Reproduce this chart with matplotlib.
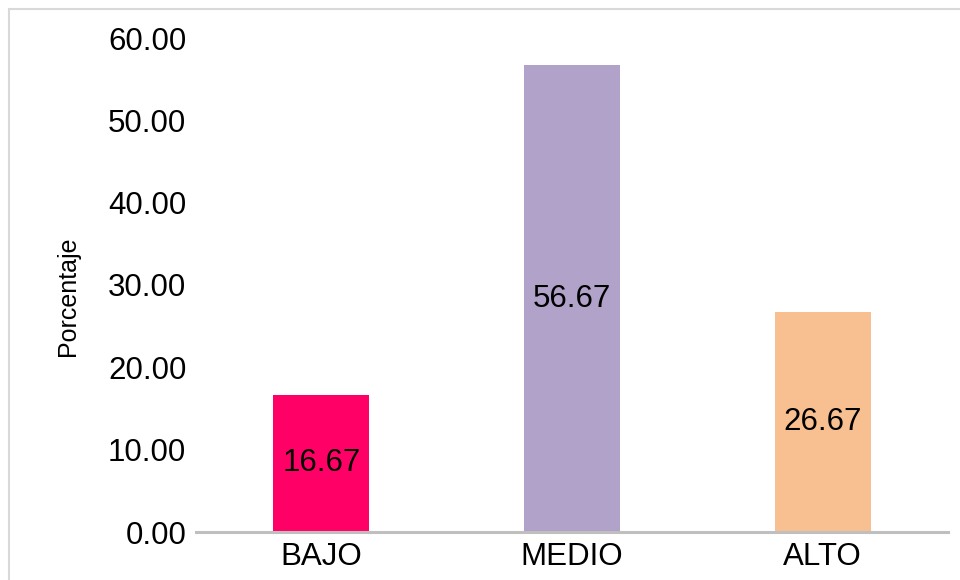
import matplotlib.pyplot as plt
from matplotlib.patches import Rectangle

categories = ["BAJO", "MEDIO", "ALTO"]
values = [16.67, 56.67, 26.67]
colors = ["#FF0066", "#B0A2C8", "#F8C090"]
yticks = [0, 10, 20, 30, 40, 50, 60]

plt.rcParams["font.family"] = ["Liberation Sans", "DejaVu Sans"]

fig = plt.figure(figsize=(9.6, 5.8), dpi=100)
ax = fig.add_axes([196 / 960, 1 - 532 / 580, 752 / 960, (532 - 38) / 580])

x = list(range(len(categories)))
bars = ax.bar(x, values, width=0.383, color=colors, zorder=2)

for b, v in zip(bars, values):
    ax.text(b.get_x() + b.get_width() / 2, v / 2, f"{v:.2f}",
            ha="center", va="center", fontsize=22.5, color="black")

ax.set_xlim(-0.5, 2.5)
ax.set_ylim(0, 60)
ax.set_yticks(yticks)
ax.set_yticklabels([f"{t:.2f}" for t in yticks])
ax.set_xticks(x)
ax.set_xticklabels(categories)
ax.tick_params(axis="both", length=0, labelsize=22.5)
ax.tick_params(axis="y", pad=7)
ax.tick_params(axis="x", pad=7)

for s in ["top", "right", "left"]:
    ax.spines[s].set_visible(False)
ax.spines["bottom"].set_color("#BFBFBF")
ax.spines["bottom"].set_linewidth(2.2)
ax.spines["bottom"].set_zorder(3)

ax.set_ylabel("Porcentaje", fontsize=18)
ax.yaxis.set_label_coords(-0.154, 0.478)

fig.patches.append(Rectangle((9 / 960, -0.1), 1.2, 1 - 9 / 580 + 0.1,
                             transform=fig.transFigure, fill=False,
                             edgecolor="#D9D9D9", linewidth=1.5))

fig.savefig("out.png", dpi=100)
